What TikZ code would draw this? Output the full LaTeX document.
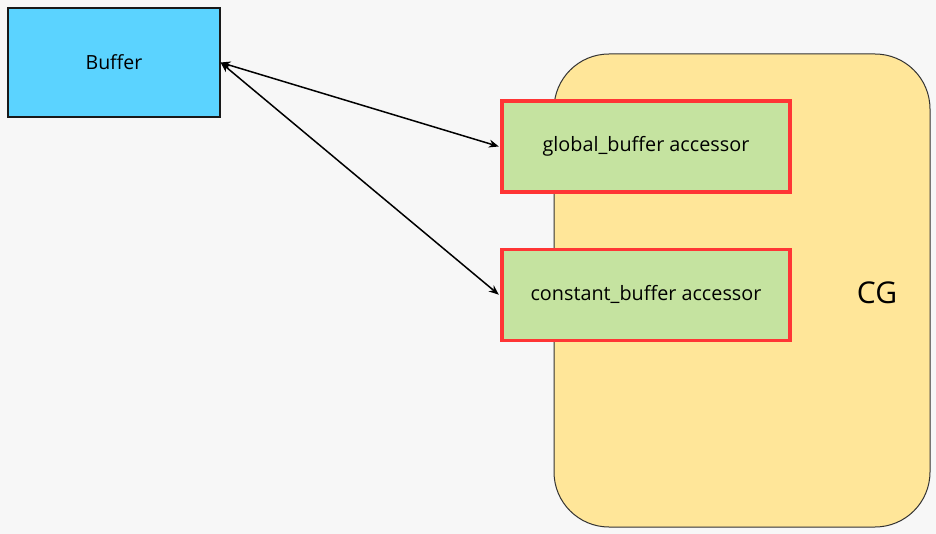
\documentclass[tikz,border=0pt]{standalone}
\usepackage{fontspec}
\setmainfont{Open Sans}
\usetikzlibrary{arrows.meta, positioning}

\definecolor{bgcol}{HTML}{F7F7F7}
\definecolor{buffercol}{HTML}{5BD3FF}
\definecolor{cgcol}{HTML}{FFE699}
\definecolor{accesscol}{HTML}{C5E3A0}
\definecolor{accessline}{HTML}{FF3535}

\begin{document}
\begin{tikzpicture}[x=1pt, y=-1pt,
  bufferbox/.style={draw=black!90, line width=1.2pt, fill=buffercol, minimum width=212pt, minimum height=109pt, inner sep=0pt, font=\fontsize{19.5}{22}\selectfont},
  cgbox/.style={draw=black!80, line width=1pt, fill=cgcol, rounded corners=55pt, minimum width=376pt, minimum height=473pt, inner sep=0pt},
  accessbox/.style={draw=accessline, line width=3.2pt, fill=accesscol, minimum width=288pt, minimum height=91pt, inner sep=0pt, font=\fontsize{19.8}{22}\selectfont},
  link/.style={line width=1.5pt, {Stealth[length=10pt,width=8pt]}-{Stealth[length=10pt,width=8pt]}}]

% Background and page size
\fill[bgcol] (0,0) rectangle (936,534);
\useasboundingbox (0,0) rectangle (936,534);

% Outer group
\node[cgbox] (cg) at (742,290.5) {};
\node[font=\fontsize{30}{32}\selectfont] (cglabel) at (877,293) {CG};

% Buffer
\node[bufferbox] (buffer) at (114,62.5) {Buffer};

% Accessors
\node[accessbox] (global) at (646,146.5) {global\_buffer accessor};
\node[accessbox, below=54pt of global] (constant) {constant\_buffer accessor};

% Links between buffer and accessors
\draw[link] (buffer.east) -- ([xshift=-1.6pt]global.west);
\draw[link] (buffer.east) -- ([xshift=-1.6pt]constant.west);
\end{tikzpicture}
\end{document}
